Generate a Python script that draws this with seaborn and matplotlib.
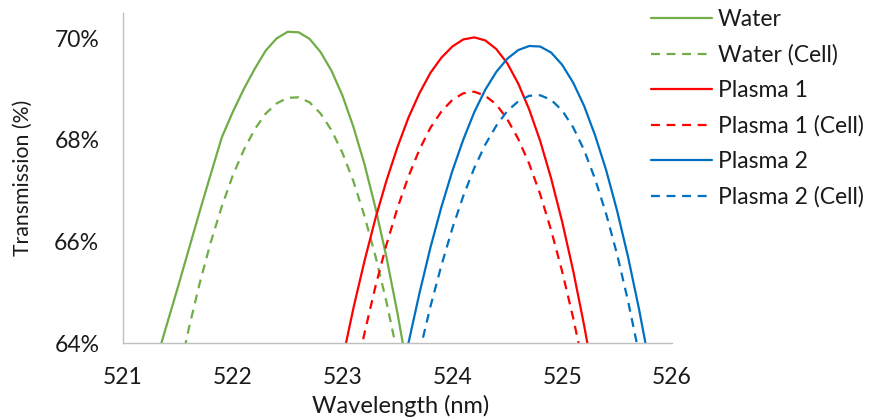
import matplotlib
matplotlib.use("Agg")
from matplotlib import pyplot as plt
from matplotlib.ticker import FuncFormatter
import seaborn as sns
import pandas as pd

# wavelength (nm) / transmission (%)
water_wl = [521.3, 521.4, 521.5, 521.6, 521.7, 521.8, 521.9, 522.0, 522.1, 522.2,
            522.3, 522.4, 522.5, 522.6, 522.7, 522.8, 522.9, 523.0, 523.1, 523.2,
            523.3, 523.4, 523.5, 523.6]
water_t = [63.63, 64.37, 65.10, 65.85, 66.60, 67.33, 68.05, 68.55, 69.00, 69.40,
           69.76, 70.00, 70.13, 70.12, 69.99, 69.73, 69.36, 68.87, 68.25, 67.52,
           66.66, 65.69, 64.59, 63.38]

water_cell_wl = [521.5, 521.6, 521.7, 521.8, 521.9, 522.0, 522.1, 522.2, 522.3, 522.4,
                 522.5, 522.6, 522.7, 522.8, 522.9, 523.0, 523.1, 523.2, 523.3, 523.4,
                 523.5]
water_cell_t = [63.29, 64.29, 65.19, 65.99, 66.69, 67.30, 67.80, 68.21, 68.52, 68.72,
                68.83, 68.84, 68.74, 68.52, 68.19, 67.74, 67.18, 66.50, 65.71, 64.81,
                63.79]

p1_wl = [523.0, 523.1, 523.2, 523.3, 523.4, 523.5, 523.6, 523.7, 523.8, 523.9,
         524.0, 524.1, 524.2, 524.3, 524.4, 524.5, 524.6, 524.7, 524.8, 524.9,
         525.0, 525.1, 525.2, 525.3]
p1_t = [63.68, 64.70, 65.62, 66.46, 67.20, 67.86, 68.44, 68.92, 69.32, 69.62,
        69.84, 69.98, 70.02, 69.96, 69.79, 69.51, 69.11, 68.60, 67.98, 67.24,
        66.39, 65.43, 64.35, 63.16]

p1_cell_wl = [523.1, 523.2, 523.3, 523.4, 523.5, 523.6, 523.7, 523.8, 523.9, 524.0,
              524.1, 524.2, 524.3, 524.4, 524.5, 524.6, 524.7, 524.8, 524.9, 525.0,
              525.1, 525.2]
p1_cell_t = [63.18, 64.20, 65.12, 65.94, 66.66, 67.28, 67.81, 68.24, 68.56, 68.79,
             68.92, 68.95, 68.87, 68.70, 68.41, 68.02, 67.53, 66.93, 66.22, 65.41,
             64.50, 63.48]

p2_wl = [523.5, 523.6, 523.7, 523.8, 523.9, 524.0, 524.1, 524.2, 524.3, 524.4,
         524.5, 524.6, 524.7, 524.8, 524.9, 525.0, 525.1, 525.2, 525.3, 525.4,
         525.5, 525.6, 525.7, 525.8]
p2_t = [62.93, 64.00, 64.98, 65.88, 66.68, 67.39, 68.01, 68.55, 68.99, 69.34,
        69.60, 69.77, 69.85, 69.84, 69.72, 69.48, 69.13, 68.67, 68.09, 67.41,
        66.61, 65.70, 64.67, 63.53]

p2_cell_wl = [523.7, 523.8, 523.9, 524.0, 524.1, 524.2, 524.3, 524.4, 524.5, 524.6,
              524.7, 524.8, 524.9, 525.0, 525.1, 525.2, 525.3, 525.4, 525.5, 525.6,
              525.7]
p2_cell_t = [63.81, 64.72, 65.53, 66.26, 66.90, 67.45, 67.91, 68.28, 68.57, 68.76,
             68.87, 68.88, 68.79, 68.58, 68.25, 67.80, 67.23, 66.55, 65.75, 64.83,
             63.79]

series = [
    ("Water", water_wl, water_t, "#70AD47", "-"),
    ("Water (Cell)", water_cell_wl, water_cell_t, "#70AD47", (0, (4, 3))),
    ("Plasma 1", p1_wl, p1_t, "#FF0000", "-"),
    ("Plasma 1 (Cell)", p1_cell_wl, p1_cell_t, "#FF0000", (0, (4, 3))),
    ("Plasma 2", p2_wl, p2_t, "#0070C0", "-"),
    ("Plasma 2 (Cell)", p2_cell_wl, p2_cell_t, "#0070C0", (0, (4, 3))),
]

sns.set_style("white")
plt.rcParams['font.family'] = ['Lato', 'DejaVu Sans']
txt = "#1a1a1a"

fig = plt.figure(figsize=(8.72, 4.19), dpi=100)
ax = fig.add_axes([0.141, 0.181, 0.6296, 0.788])

for name, wl, t, col, ls in series:
    df = pd.DataFrame({"wl": wl, "t": t})
    sns.lineplot(data=df, x="wl", y="t", ax=ax, color=col, linestyle=ls,
                 linewidth=1.6, label=name)

ax.set_xlim(521, 526)
ax.set_ylim(64, 70.5)
ax.set_xticks([521, 522, 523, 524, 525, 526])
ax.set_yticks([64, 66, 68, 70])
ax.yaxis.set_major_formatter(FuncFormatter(lambda v, p: f"{v:.0f}%"))
ax.tick_params(axis="both", length=0, labelsize=16.5, colors=txt)
ax.tick_params(axis="x", pad=17)
ax.tick_params(axis="y", pad=17)

for s in ["top", "right"]:
    ax.spines[s].set_visible(False)
for s in ["left", "bottom"]:
    ax.spines[s].set_color("#bfbfbf")
    ax.spines[s].set_linewidth(1.0)

ax.set_xlabel("Wavelength (nm)", fontsize=17, color=txt, va="top")
ax.set_ylabel("Transmission (%)", fontsize=15.3, color=txt)
ax.xaxis.set_label_coords(0.505, -0.158)
ax.yaxis.set_label_coords(-0.164, 0.5)

ax.legend(loc="upper left", bbox_to_anchor=(0.736, 1.0), bbox_transform=fig.transFigure,
          frameon=False, fontsize=16.5, handlelength=2.66, handletextpad=0.26,
          labelspacing=0.62, borderaxespad=0.0, labelcolor=txt)

fig.savefig("out.png", dpi=100)
